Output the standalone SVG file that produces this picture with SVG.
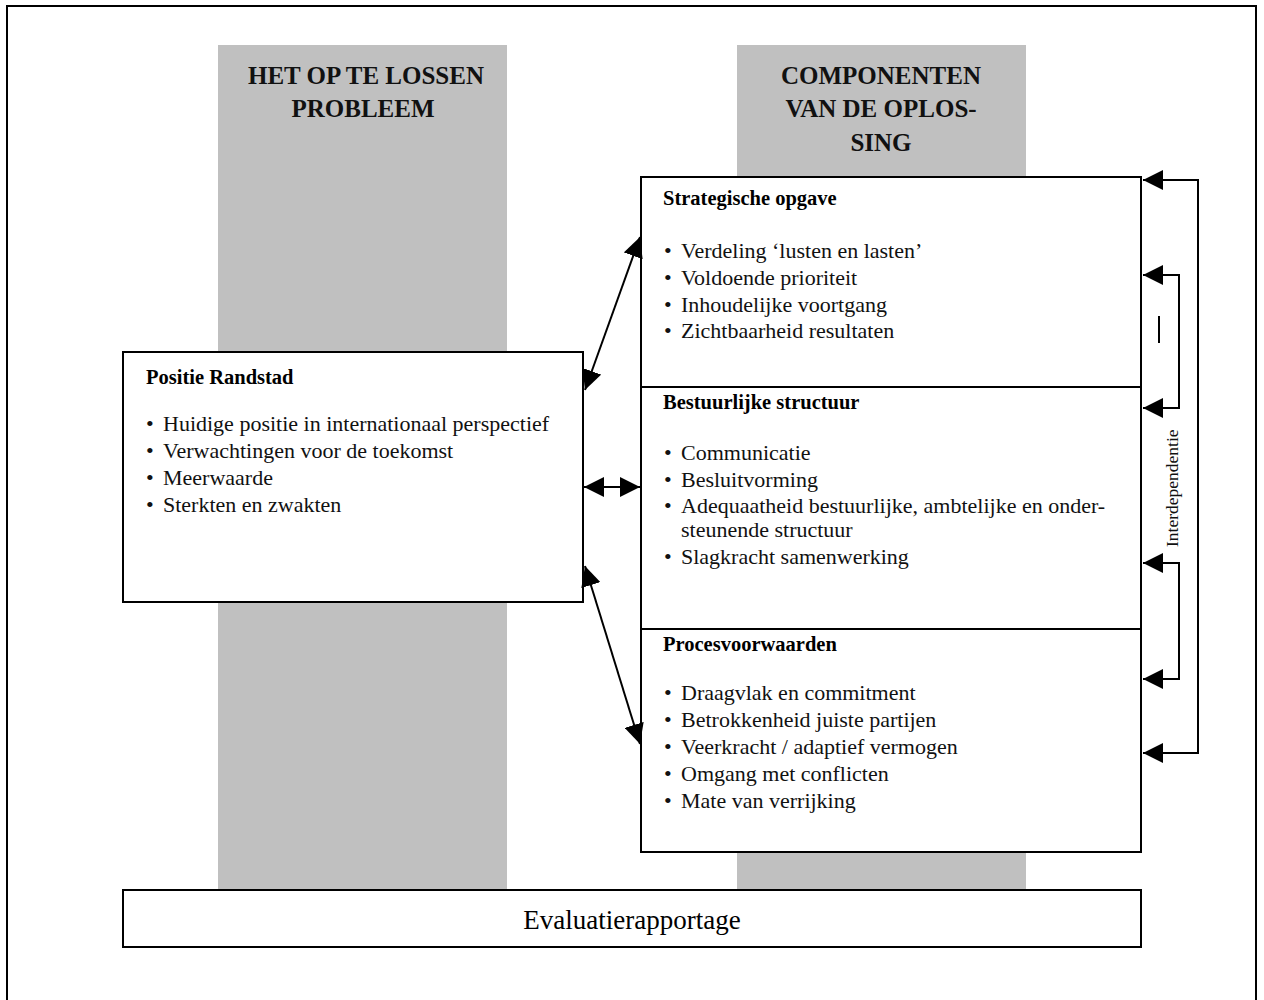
<svg xmlns="http://www.w3.org/2000/svg" width="1264" height="1000" viewBox="0 0 1264 1000">
<style>
.col{fill:#c0c0c0}
.box{fill:#fff;stroke:#000;stroke-width:2}
.hd{font-family:"Liberation Serif",serif;font-size:25px;font-weight:bold;fill:#111;text-anchor:middle}
.t{font-family:"Liberation Serif",serif;font-size:22px;fill:#111}
.b{font-family:"Liberation Serif",serif;font-size:20.5px;font-weight:bold;fill:#000}
.con{fill:none;stroke:#000;stroke-width:2;marker-start:url(#ah);marker-end:url(#ah)}
</style>
<defs>
<marker id="ah" viewBox="0 0 20 20" refX="20" refY="10" markerWidth="20" markerHeight="20" markerUnits="userSpaceOnUse" orient="auto-start-reverse">
<path d="M0,0 L20,10 L0,20 z" fill="#000"/>
</marker>
</defs>
<rect x="7" y="6" width="1249" height="1010" fill="#fff" stroke="#000" stroke-width="2"/>
<g id="col-left">
<rect class="col" x="218" y="45" width="289" height="845"/>
<text class="hd" x="366" y="84">HET OP TE LOSSEN</text>
<text class="hd" x="363" y="117">PROBLEEM</text>
</g>
<g id="col-right">
<rect class="col" x="737" y="45" width="289" height="845"/>
<text class="hd" x="881" y="84">COMPONENTEN</text>
<text class="hd" x="881" y="117">VAN DE OPLOS-</text>
<text class="hd" x="881" y="151">SING</text>
</g>
<g id="positie">
<rect class="box" x="123" y="352" width="460" height="250"/>
<text class="b" x="146" y="384">Positie Randstad</text>
<text class="t" x="146" y="431">•<tspan x="163">Huidige positie in internationaal perspectief</tspan></text>
<text class="t" x="146" y="458">•<tspan x="163">Verwachtingen voor de toekomst</tspan></text>
<text class="t" x="146" y="485">•<tspan x="163">Meerwaarde</tspan></text>
<text class="t" x="146" y="512">•<tspan x="163">Sterkten en zwakten</tspan></text>
</g>
<g id="strategisch">
<rect class="box" x="641" y="177" width="500" height="210"/>
<text class="b" x="663" y="205">Strategische opgave</text>
<text class="t" x="664" y="258">•<tspan x="681">Verdeling ‘lusten en lasten’</tspan></text>
<text class="t" x="664" y="285">•<tspan x="681">Voldoende prioriteit</tspan></text>
<text class="t" x="664" y="312">•<tspan x="681">Inhoudelijke voortgang</tspan></text>
<text class="t" x="664" y="338">•<tspan x="681">Zichtbaarheid resultaten</tspan></text>
</g>
<g id="bestuurlijk">
<rect class="box" x="641" y="387" width="500" height="242"/>
<text class="b" x="663" y="409">Bestuurlijke structuur</text>
<text class="t" x="664" y="460">•<tspan x="681">Communicatie</tspan></text>
<text class="t" x="664" y="487">•<tspan x="681">Besluitvorming</tspan></text>
<text class="t" x="664" y="513">•<tspan x="681">Adequaatheid bestuurlijke, ambtelijke en onder-</tspan></text>
<text class="t" x="681" y="537">steunende structuur</text>
<text class="t" x="664" y="564">•<tspan x="681">Slagkracht samenwerking</tspan></text>
</g>
<g id="proces">
<rect class="box" x="641" y="629" width="500" height="223"/>
<text class="b" x="663" y="651">Procesvoorwaarden</text>
<text class="t" x="664" y="700">•<tspan x="681">Draagvlak en commitment</tspan></text>
<text class="t" x="664" y="727">•<tspan x="681">Betrokkenheid juiste partijen</tspan></text>
<text class="t" x="664" y="754">•<tspan x="681">Veerkracht / adaptief vermogen</tspan></text>
<text class="t" x="664" y="781">•<tspan x="681">Omgang met conflicten</tspan></text>
<text class="t" x="664" y="808">•<tspan x="681">Mate van verrijking</tspan></text>
</g>
<g id="evaluatie">
<rect class="box" x="123" y="890" width="1018" height="57"/>
<text x="632" y="929" text-anchor="middle" style="font-family:'Liberation Serif',serif;font-size:27px;fill:#000">Evaluatierapportage</text>
</g>
<g id="connectors">
<line class="con" x1="585" y1="390" x2="640" y2="237"/>
<line class="con" x1="584" y1="487" x2="640" y2="487"/>
<line class="con" x1="585" y1="566" x2="640" y2="744"/>
<polyline class="con" points="1143,180 1198,180 1198,753 1143,753"/>
<polyline class="con" points="1143,275 1179,275 1179,408 1143,408"/>
<polyline class="con" points="1143,563 1179,563 1179,679 1143,679"/>
<line x1="1159" y1="316" x2="1159" y2="343" stroke="#000" stroke-width="2"/>
</g>
<text x="0" y="0" transform="translate(1178,547) rotate(-90)" style="font-family:'Liberation Serif',serif;font-size:17.5px;fill:#111">Interdependentie</text>
</svg>
